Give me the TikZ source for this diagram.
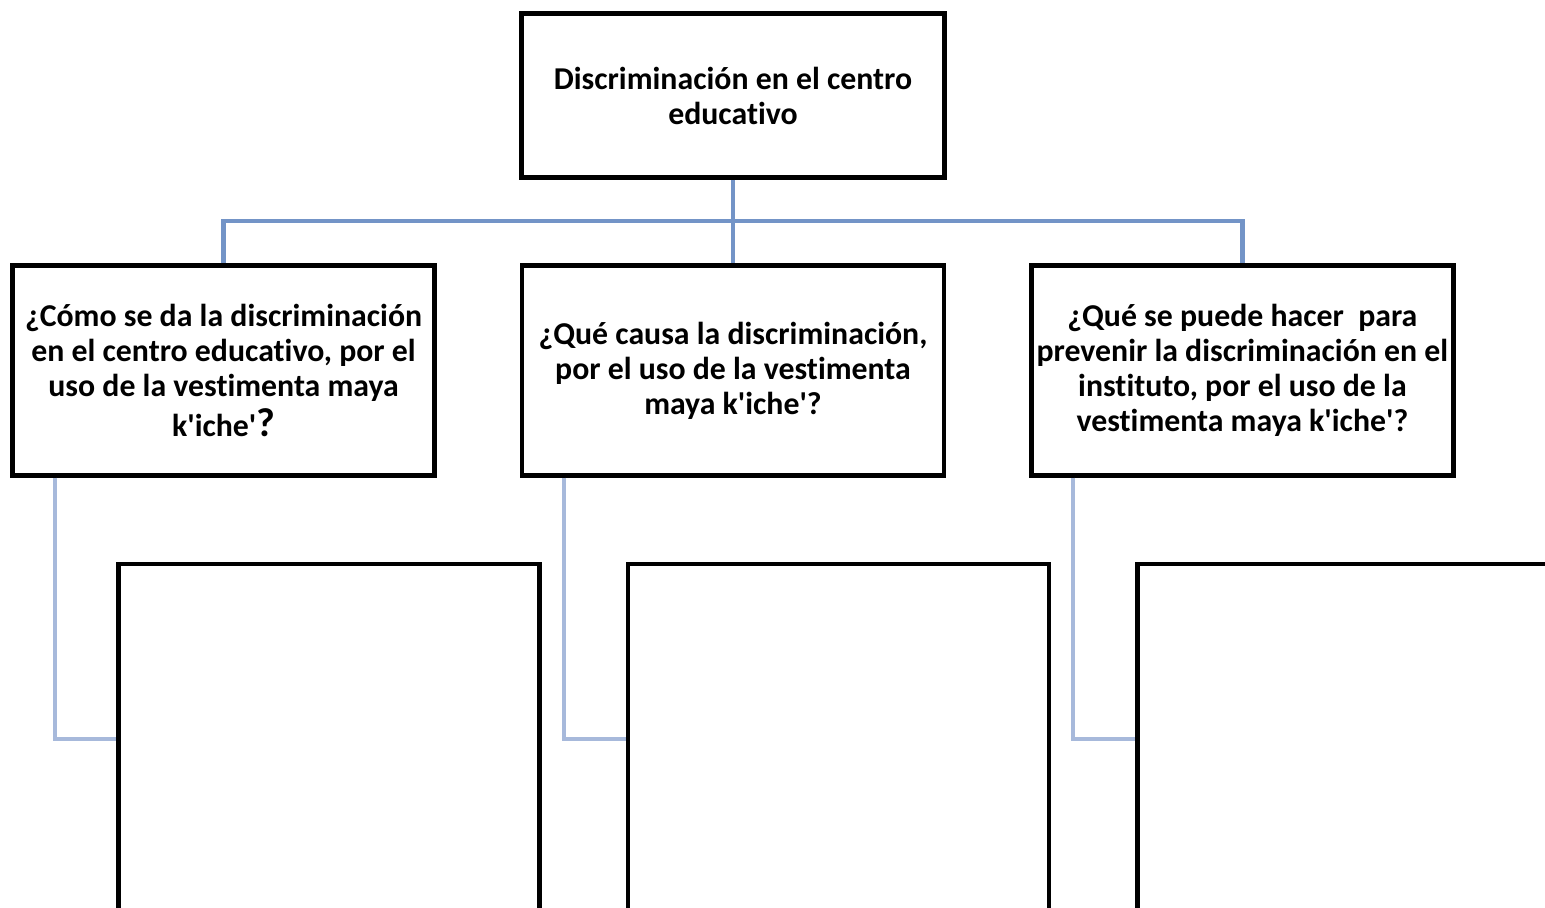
\documentclass[tikz,border=0pt]{standalone}
\usepackage{fontspec}
\setmainfont{Carlito}[Ligatures={NoCommon}]
\usepackage{tikz}
\usetikzlibrary{positioning}
\newcommand{\ap}{\textquotesingle}

\begin{document}
\begin{tikzpicture}[x=0.02cm,y=-0.02cm,node distance=2cm]
    \definecolor{mybluel}{RGB}{115,148,199}
    \definecolor{mybluep}{RGB}{167,185,219}

    \fontsize{18.1}{19.9}\selectfont\bfseries  % 字体
    \tikzstyle{titlebox}=[rectangle,draw,line width=2.6pt,fill=white,minimum width=8.46cm,minimum height=3.28cm,align=center]
    \tikzstyle{askbox}=[rectangle,draw,line width=2.6pt,fill=white,inner xsep=0pt,minimum width=8.44cm,minimum height=4.2cm,align=center]
    \tikzstyle{answerbox}=[rectangle,draw,line width=2.6pt,fill=white,minimum width=8.42cm,minimum height=7cm]
    \tikzstyle{link}=[draw=mybluel,line width=2.4pt]
    \tikzstyle{sublink}=[draw=mybluep,line width=2.4pt]

    \useasboundingbox (0,0) rectangle (1545,908);
    \clip (0,0) rectangle (1545,908);

    % nodos
    \node[titlebox](top) at (733,95.5){Discriminación en el centro\\educativo};
    \node[askbox,below of=top,node distance=5.5cm](q2){¿Qué causa la discriminación,\\por el uso de la vestimenta\\maya k\ap iche\ap?};
    \node[askbox,left of=q2,node distance=10.19cm](q1){¿Cómo se da la discriminación\\en el centro educativo, por el\\uso de la vestimenta maya\\[3pt]k\ap iche\ap{\fontsize{23}{19.9}\selectfont ?}};
    \node[askbox,right of=q2,node distance=10.19cm](q3){¿Qué se puede hacer~ para\\prevenir la discriminación en el\\instituto, por el uso de la\\vestimenta maya k\ap iche\ap?};
    \node[answerbox](a1) at (329,739){};
    \node[answerbox](a2) at (838.5,739){};
    \node[answerbox](a3) at (1348,739){};
    \coordinate (bus) at (733,221);

    % lineas
    \draw[link](top)--(bus);
    \draw[link](q1.north)|-(bus)-|(q3.north);
    \draw[link](bus)--(q2);
    \draw[sublink]([xshift=0.9cm]q1.south west)|-(a1.west);
    \draw[sublink]([xshift=0.88cm]q2.south west)|-(a2.west);
    \draw[sublink]([xshift=0.88cm]q3.south west)|-(a3.west);
\end{tikzpicture}
\end{document}
